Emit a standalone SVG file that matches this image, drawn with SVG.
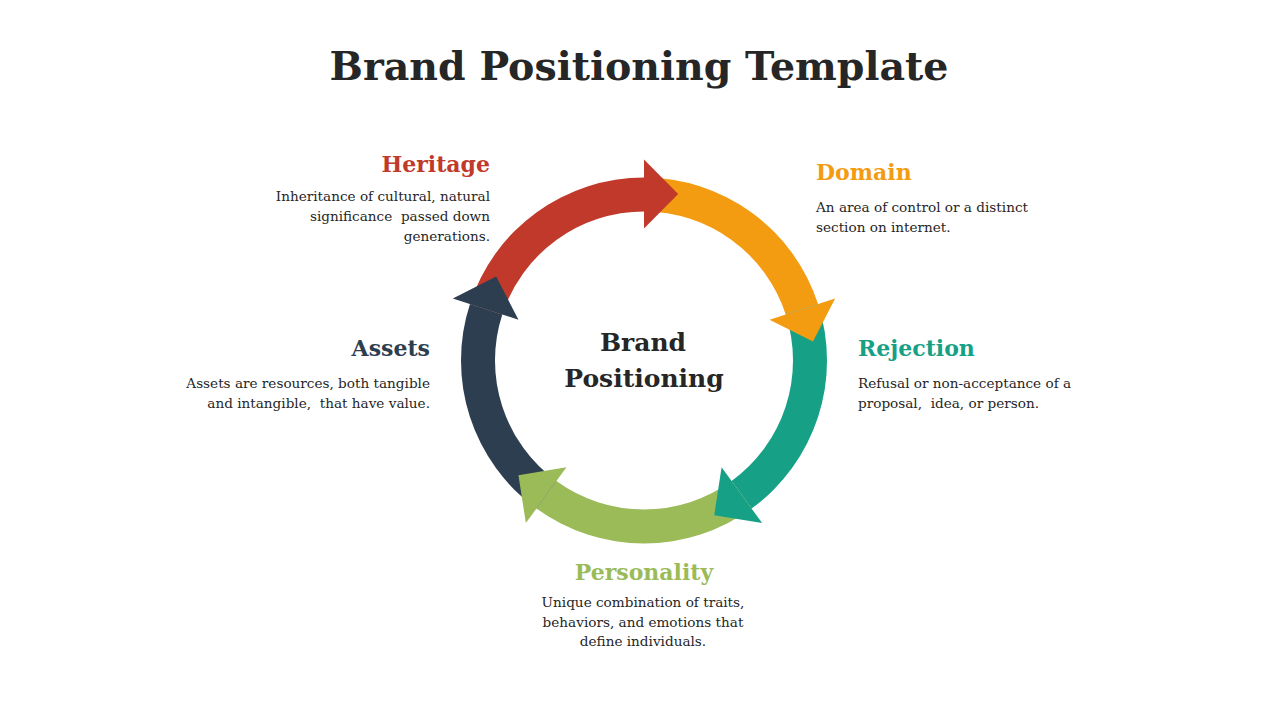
<svg xmlns="http://www.w3.org/2000/svg" width="1280" height="720" viewBox="0 0 1280 720">
  <style>
    .title { font-family: "DejaVu Serif", "Liberation Serif", serif; font-weight: bold; font-size: 39.5px; fill: #262626; }
    .center { font-family: "DejaVu Serif", "Liberation Serif", serif; font-weight: bold; font-size: 25px; fill: #262626; }
    .head { font-family: "DejaVu Serif", "Liberation Serif", serif; font-weight: bold; font-size: 22px; }
    .body { font-family: "DejaVu Serif", "Liberation Serif", serif; font-size: 13.6px; fill: #262626; white-space: pre; }
    .red { fill: #C0392B; }
    .orange { fill: #F39C12; }
    .teal { fill: #16A085; }
    .green { fill: #9BBB59; }
    .navy { fill: #2C3E50; }
  </style>
  <rect width="1280" height="720" fill="#FFFFFF"/>

  <text class="title" x="639" y="80" text-anchor="middle">Brand Positioning Template</text>

  <g id="cycle">
    <g id="shafts">
      <path class="red" d="M469.96 303.95 A183 183 0 0 1 644 177.5 L644 211.5 A149 149 0 0 0 502.29 314.46 Z"/>
      <path class="orange" d="M644 177.5 A183 183 0 0 1 818.04 303.95 L785.71 314.46 A149 149 0 0 0 644 211.5 Z"/>
      <path class="teal" d="M818.04 303.95 A183 183 0 0 1 751.57 508.55 L731.58 481.04 A149 149 0 0 0 785.71 314.46 Z"/>
      <path class="green" d="M751.57 508.55 A183 183 0 0 1 536.43 508.55 L556.42 481.04 A149 149 0 0 0 731.58 481.04 Z"/>
      <path class="navy" d="M536.43 508.55 A183 183 0 0 1 469.96 303.95 L502.29 314.46 A149 149 0 0 0 556.42 481.04 Z"/>
    </g>
    <g id="heads">
      <polygon class="red" points="644,228.5 644,159.5 678.18,193.97"/>
      <polygon class="orange" points="769.54,319.71 835.16,298.39 812.94,341.55"/>
      <polygon class="teal" points="721.59,467.29 762.15,523.11 714.23,515.32"/>
      <polygon class="green" points="566.41,467.29 525.85,523.11 518.46,475.13"/>
      <polygon class="navy" points="518.46,319.71 452.84,298.39 496.19,276.53"/>
    </g>
  </g>

  <g id="center-label">
    <text class="center" x="643" y="351" text-anchor="middle">Brand</text>
    <text class="center" x="644" y="387" text-anchor="middle">Positioning</text>
  </g>

  <g id="heritage" text-anchor="end">
    <text class="head red" x="490" y="172">Heritage</text>
    <text class="body" x="490" y="201">Inheritance of cultural, natural</text>
    <text class="body" x="490" y="221">significance  passed down</text>
    <text class="body" x="490" y="241">generations.</text>
  </g>

  <g id="domain">
    <text class="head orange" x="816" y="180">Domain</text>
    <text class="body" x="816" y="212">An area of control or a distinct</text>
    <text class="body" x="816" y="232">section on internet.</text>
  </g>

  <g id="rejection">
    <text class="head teal" x="858" y="356">Rejection</text>
    <text class="body" x="858" y="388">Refusal or non-acceptance of a</text>
    <text class="body" x="858" y="408">proposal,  idea, or person.</text>
  </g>

  <g id="assets" text-anchor="end">
    <text class="head navy" x="430" y="356">Assets</text>
    <text class="body" x="430" y="388">Assets are resources, both tangible</text>
    <text class="body" x="430" y="408">and intangible,  that have value.</text>
  </g>

  <g id="personality" text-anchor="middle">
    <text class="head green" x="644" y="580">Personality</text>
    <text class="body" x="643" y="607">Unique combination of traits,</text>
    <text class="body" x="643" y="627">behaviors, and emotions that</text>
    <text class="body" x="643" y="646">define individuals.</text>
  </g>
</svg>
